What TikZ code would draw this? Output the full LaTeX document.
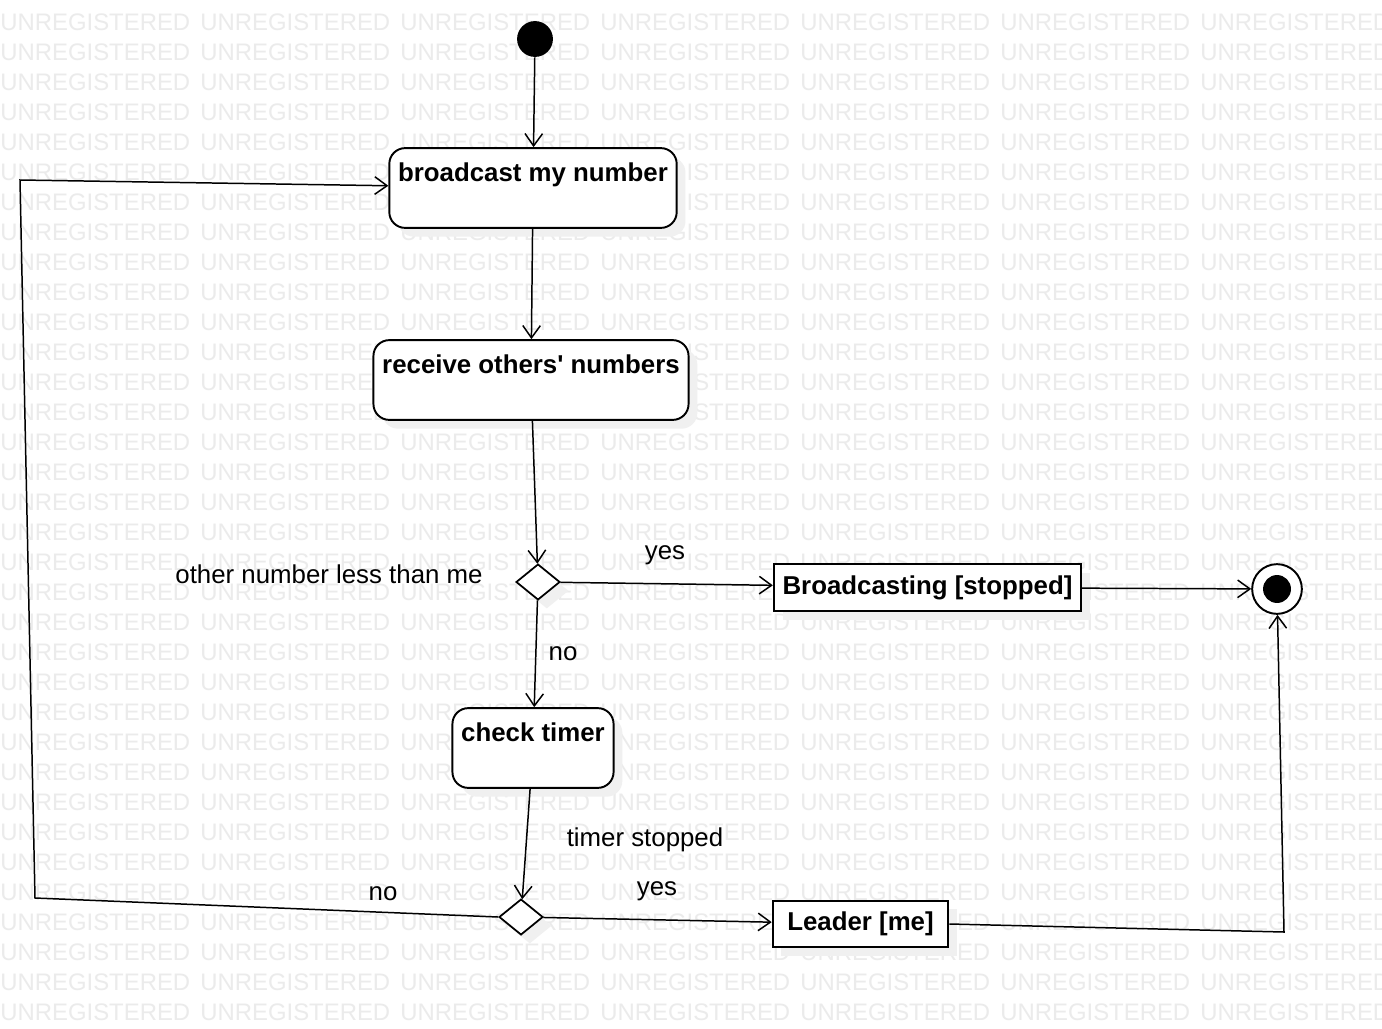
\documentclass[tikz,border=0pt]{standalone}
\usepackage{fontspec}
\setmainfont{Liberation Sans}
\usetikzlibrary{arrows.meta,shapes.geometric,shadows}
\begin{document}
\begin{tikzpicture}[x=0.02cm,y=-0.02cm,
  every node/.style={font=\fontsize{14.7}{17}\selectfont},
  wm/.style={anchor=west, inner sep=0pt, text=black!8, font=\fontsize{13.6}{15}\selectfont},
  shade/.style={drop shadow={shadow xshift=5pt, shadow yshift=-5pt, fill=black!6, opacity=1}},
  act/.style={draw, rounded corners=9pt, fill=white, line width=1.1pt, inner xsep=5pt, inner ysep=4pt,
    text height=14.9pt, text depth=22.5pt, font=\fontsize{14.7}{17}\selectfont\bfseries, shade},
  obj/.style={draw, fill=white, line width=1.1pt, inner xsep=5pt, inner ysep=0pt, minimum height=26.6pt,
    font=\fontsize{14.7}{17}\selectfont\bfseries, shade},
  dec/.style={diamond, draw, fill=white, line width=1pt, inner sep=0pt, minimum width=25pt, minimum height=20.4pt, shade},
  flow/.style={line width=0.85pt, -{Straight Barb[length=7pt,width=10pt,line width=0.85pt]}},
  edge/.style={line width=0.85pt}]
\fill[white] (0,0) rectangle (1382,1028);
\begin{scope}
\clip (0,0) rectangle (1382,1028);
\foreach \r in {0,...,33}{\foreach \c in {0,...,6}{\node[wm] (wm-\r-\c) at (200*\c,22+30*\r) {UNREGISTERED};}}
\end{scope}
\node[circle, fill, inner sep=0pt, minimum size=20.4pt] (start) at (535,39){};
\node[act] (bcast) at (533,188){broadcast my number};
\node[act] (recv) at (531,380){receive others\textquotesingle{} numbers};
\node[dec] (dec1) at (538,582){};
\node[obj] (stopped) at (927.5,587.5){Broadcasting [stopped]};
\node[circle, draw, fill=white, line width=1.1pt, inner sep=0pt, minimum size=28.3pt] (endst) at (1277,589){};
\node[circle, fill, inner sep=0pt, minimum size=15.9pt] (endin) at (1277,589){};
\node[act] (timer) at (533,748){check timer};
\node[dec] (dec2) at (521,917){};
\node[obj, minimum width=100pt] (leader) at (860.5,924){Leader [me]};
\node (lblless) at (329,574){other number less than me};
\node (lblyes1) at (665,555){yes};
\node (lblno1) at (563,654){no};
\node (lblstop) at (645,840){timer stopped};
\node (lblyes2) at (657,891){yes};
\node (lblno2) at (383,894){no};
\coordinate (c1) at (35,898);
\coordinate (c2) at (20,180);
\coordinate (c3) at (1284,932);
\draw[flow] (start) -- (bcast);
\draw[flow] (bcast) -- (recv);
\draw[flow] (recv) -- (dec1);
\draw[flow] (dec1) -- (stopped);
\draw[flow] (stopped) -- (endst);
\draw[flow] (dec1) -- (timer);
\draw[flow] (timer) -- (dec2);
\draw[flow] (dec2) -- (leader);
\draw[flow] (leader.east) -- (c3) -- (endst);
\draw[flow] (dec2.west) -- (c1) -- (c2) -- (bcast);
\end{tikzpicture}
\end{document}
